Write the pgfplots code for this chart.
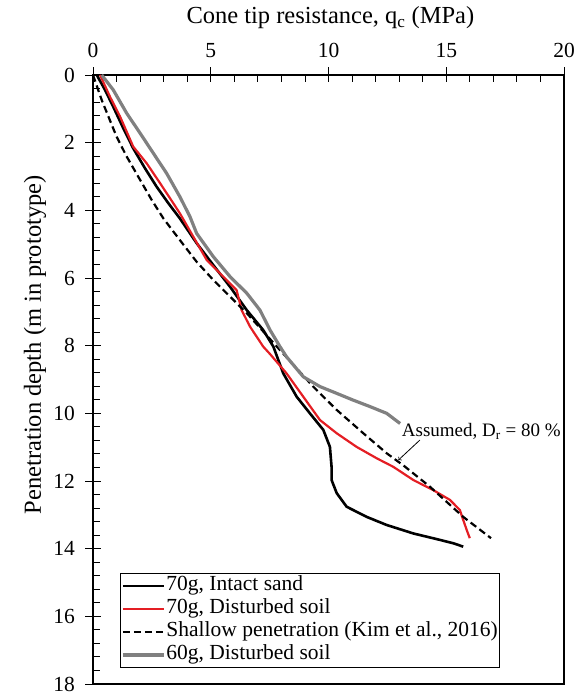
\documentclass[border=0pt]{standalone}
\usepackage{fontspec}
\setmainfont{Liberation Serif}
\usepackage{pgfplots}
\pgfplotsset{compat=1.18}
\definecolor{cred}{RGB}{228,30,36}
\definecolor{cgray}{RGB}{128,128,128}
\begin{document}
\begin{tikzpicture}
\begin{axis}[
  scale only axis, width=471pt, height=609pt,
  xmin=0, xmax=20, ymin=0, ymax=18, y dir=reverse,
  xtick={0,5,...,20}, ytick={0,2,...,18},
  minor x tick num=4, minor y tick num=4,
  xtick pos=right, xticklabel pos=right, ytick pos=left,
  tick align=inside,
  major tick length=15pt, minor tick length=7pt,
  every major x tick/.append style={yshift=7.5pt},
  every major y tick/.append style={xshift=-7.5pt},
  tick style={black, line width=0.9pt},
  axis line style={line width=1.1pt},
  /pgf/number format/assume math mode=true,
  ticklabel style={font=\fontsize{21.5}{24}\selectfont},
  xticklabel style={anchor=south, inner sep=0pt, yshift=17pt},
  yticklabel style={anchor=east, inner sep=0pt, xshift=-18pt},
  xlabel={Cone tip resistance, q\textsubscript{c} (MPa)},
  ylabel={Penetration depth (m in prototype)},
  xlabel style={at={(axis description cs:0.504,1)}, anchor=center, yshift=57pt, font=\fontsize{24.5}{26}\selectfont},
  ylabel style={at={(axis description cs:-0.123,0.557)}, anchor=center, font=\fontsize{24.5}{26}\selectfont},
  legend style={at={(axis description cs:0.057,0.182)}, anchor=north west, draw=black, line width=0.8pt, inner sep=1pt, row sep=0pt,
    font=\fontsize{21.5}{21.5}\selectfont, nodes={inner sep=1pt, text height=15pt, text depth=6pt}},
  legend cell align=left,
  legend image code/.code={\draw[#1] plot coordinates {(0pt,0pt) (20pt,0pt) (41pt,0pt)};},
]
\addplot[black, line width=2.6pt, line join=round] coordinates {
(0.16,0) (0.51,0.44) (0.86,0.94) (1.29,1.58) (1.71,2.17) (2.21,2.76) (2.70,3.30)
(3.20,3.79) (3.69,4.24) (4.40,4.97) (5.11,5.62) (5.82,6.26) (6.53,6.95) (7.23,7.54)
(7.66,8.03) (8.08,8.82) (8.65,9.51) (9.21,10.0) (9.78,10.49) (10.06,10.99) (10.13,11.58)
(10.13,11.97) (10.35,12.36) (10.77,12.76) (11.62,13.06) (12.47,13.30) (13.6,13.55)
(14.73,13.74) (15.3,13.84) (15.72,13.94)};
\addlegendentry{70g, Intact sand}
\addplot[cred, line width=2.2pt, line join=round] coordinates {
(0.3,0) (0.72,0.64) (1.15,1.23) (1.71,2.12) (2.28,2.61) (2.85,3.2) (3.41,3.79)
(3.69,4.09) (4.26,4.78) (4.83,5.47) (5.53,5.96) (6.10,6.36) (6.31,6.95) (6.67,7.44)
(7.23,8.03) (7.52,8.25) (8.22,8.82) (8.93,9.51) (9.64,10.2) (10.35,10.59) (11.19,10.99)
(12.05,11.33) (12.75,11.58) (13.6,11.97) (14.45,12.27) (15.16,12.56) (15.58,12.86)
(15.72,13.15) (15.87,13.45) (16.0,13.69)};
\addlegendentry{70g, Disturbed soil}
\addplot[black, line width=2.2pt, dash pattern=on 7pt off 4pt] coordinates {
(0,0) (0.1,0.2) (0.37,0.74) (1.0,1.82) (1.43,2.41) (2.0,3.1) (2.49,3.69) (2.99,4.24)
(3.69,4.88) (4.4,5.52) (5.11,6.06) (5.82,6.55) (6.53,7.04) (7.9,8.1) (9.35,9.21)
(10.35,9.90) (11.48,10.59) (12.47,11.18) (13.2,11.55) (14.31,12.17) (15.72,13.06) (16.9,13.69)};
\addlegendentry{Shallow penetration (Kim et al., 2016)}
\addplot[cgray, line width=3.2pt, line join=round] coordinates {
(0.37,0) (0.86,0.44) (1.43,1.13) (2.0,1.72) (2.56,2.31) (3.13,2.91) (3.69,3.6)
(4.12,4.19) (4.40,4.68) (5.11,5.37) (5.82,5.96) (6.53,6.45) (7.09,6.95) (7.52,7.54)
(7.94,8.03) (8.22,8.33) (8.93,8.92) (9.64,9.21) (10.35,9.41) (11.05,9.61) (11.76,9.80)
(12.47,10.0) (13.04,10.3)};
\addlegendentry{60g, Disturbed soil}
\node[anchor=west, inner sep=0pt, font=\fontsize{19}{20}\selectfont] at (axis cs:13.11,10.54) {Assumed, D\textsubscript{r} = 80 \%};
\draw[->, line width=0.8pt] (axis cs:13.88,10.79) -- (axis cs:12.97,11.38);
\end{axis}
\pgfresetboundingbox
\path (-93pt,-9pt) rectangle (492pt,684pt);
\end{tikzpicture}
\end{document}
